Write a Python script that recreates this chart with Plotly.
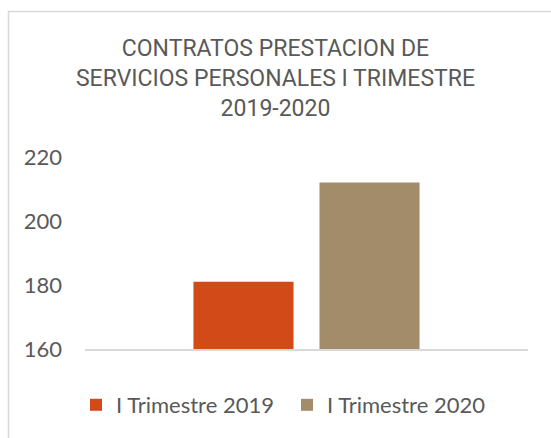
import plotly.graph_objects as go

# data
series_names = ["I Trimestre 2019", "I Trimestre 2020"]
series_values = [181, 212]
series_colors = ["#D24A18", "#A38C6A"]
category = [""]
y_ticks = [160, 180, 200, 220]

title_text = ("CONTRATOS PRESTACION DE<br>SERVICIOS PERSONALES I TRIMESTRE"
              "<br>2019-2020")

W, H = 551, 438
L, R, T, B = 85, 23, 157, 89

fig = go.Figure()
for name, val, col in zip(series_names, series_values, series_colors):
    fig.add_trace(go.Bar(x=category, y=[val], name=name,
                         marker=dict(color=col, line=dict(width=0))))

# chart-area border (only top/left visible, clipped in the picture)
plot_w = W - L - R
plot_h = H - T - B
px2x = lambda p: (p - L) / plot_w
px2y = lambda p: (H - B - p) / plot_h
fig.add_shape(type="rect", xref="paper", yref="paper",
              x0=px2x(8.5), x1=px2x(W + 20), y0=px2y(H + 20), y1=px2y(11.5),
              line=dict(color="#D9D9D9", width=1.5), layer="below")

fig.update_layout(
    width=W, height=H,
    margin=dict(l=L, r=R, t=T, b=B, pad=0),
    paper_bgcolor="white", plot_bgcolor="white",
    barmode="group", bargap=0.431, bargroupgap=0.206,
    title=dict(text=title_text, xref="container", yref="container",
               x=0.5, xanchor="center", y=1 - 56 / H, yanchor="top",
               font=dict(family="Roboto, Arial Narrow, sans-serif",
                         size=23, color="#595959")),
    font=dict(family="Lato, Calibri, sans-serif", color="#595959"),
    xaxis=dict(showticklabels=False, showgrid=False, zeroline=False,
               showline=True, linecolor="#D9D9D9", linewidth=1.5, ticks=""),
    yaxis=dict(range=[160, 220], tickvals=y_ticks, showgrid=False,
               zeroline=False, showline=False, ticks="",
               ticklabelstandoff=22, tickfont=dict(size=22)),
    legend=dict(orientation="h", x=76 / W, xanchor="left", xref="container",
                y=33 / H, yref="container", yanchor="middle",
                font=dict(size=22, color="#595959"),
                itemwidth=30, traceorder="normal",
                entrywidth=166, entrywidthmode="pixels"),
    showlegend=True,
)

fig.write_html("out.html", config={"displayModeBar": False},
               post_script="document.body.style.margin='0';")
